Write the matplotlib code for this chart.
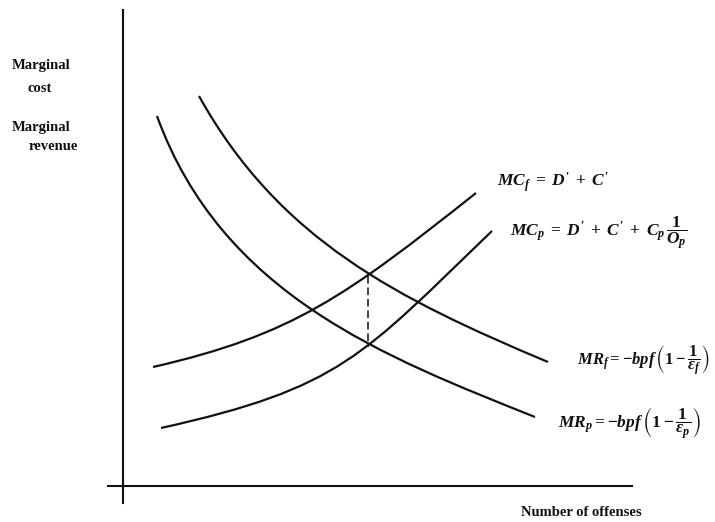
import matplotlib.pyplot as plt
from matplotlib.path import Path
from matplotlib.patches import PathPatch

plt.rcParams['mathtext.fontset'] = 'custom'
plt.rcParams['mathtext.rm'] = 'Liberation Serif:bold'
plt.rcParams['mathtext.it'] = 'Liberation Serif:italic:bold'
plt.rcParams['mathtext.bf'] = 'Liberation Serif:bold'
plt.rcParams['mathtext.fallback'] = 'stix'

# curves as cubic bezier control points (x = offenses, y = marginal cost/revenue)
mr_f_x = [76, 156, 275, 425]
mr_f_y = [390, 246, 187, 124]
mr_p_x = [34, 99, 262, 412]
mr_p_y = [370, 191, 129, 69]
mc_f_x = [30, 170, 223, 353]
mc_f_y = [119, 151, 190, 293]
mc_p_x = [38, 218, 239, 369]
mc_p_y = [58, 98, 130, 255]

# dashed drop between the two equilibria
eq_x = [245, 245]
eq_y = [210, 139]

labels = {
    'mc_f': r"$MC_f\;=\;D'\;+\;C'$",
    'mc_p': r"$MC_p\;=\;D'\;+\;C'\;+\;C_p\,\dfrac{1}{O_p}$",
    'mr_f': r"$MR_f = -bpf\,\left(1 - \dfrac{1}{\epsilon_f}\right)$",
    'mr_p': r"$MR_p = -bpf\,\left(1 - \dfrac{1}{\epsilon_p}\right)$",
}

fig = plt.figure(figsize=(7.15, 5.22), dpi=100)
ax = fig.add_axes([0, 0, 1, 1])
ax.set_xlim(-123, 592)
ax.set_ylim(-36, 486)
ax.axis('off')

ink = '#111111'

# axes of the diagram
ax.plot([0, 0], [-17, 476], color=ink, lw=1.5)
ax.plot([-15, 509], [0, 0], color=ink, lw=1.5)

codes = [Path.MOVETO, Path.CURVE4, Path.CURVE4, Path.CURVE4]
for xs, ys in [(mr_f_x, mr_f_y), (mr_p_x, mr_p_y), (mc_f_x, mc_f_y), (mc_p_x, mc_p_y)]:
    p = Path(list(zip(xs, ys)), codes)
    ax.add_patch(PathPatch(p, fill=False, edgecolor=ink, lw=1.6))

ax.plot(eq_x, eq_y, color=ink, lw=1.1, linestyle=(0, (5, 2.5)))

tfont = dict(family='Liberation Serif', fontweight='bold', fontsize=10.5, color=ink)
ax.text(-82, 421, 'Marginal', ha='center', va='center', **tfont)
ax.text(-83, 398, 'cost', ha='center', va='center', **tfont)
ax.text(-82, 358, 'Marginal', ha='center', va='center', **tfont)
ax.text(-70, 339, 'revenue', ha='center', va='center', **tfont)
ax.text(458, -27, 'Number of offenses', ha='center', va='center', **tfont)

mfont = dict(color=ink, va='center', ha='left')
ax.text(374, 304, labels['mc_f'], fontsize=12.5, **mfont)
ax.text(387, 253, labels['mc_p'], fontsize=12.5, **mfont)
ax.text(454, 126, labels['mr_f'], fontsize=12, **mfont)
ax.text(435, 63, labels['mr_p'], fontsize=12.5, **mfont)

fig.savefig('out.png', dpi=100)
